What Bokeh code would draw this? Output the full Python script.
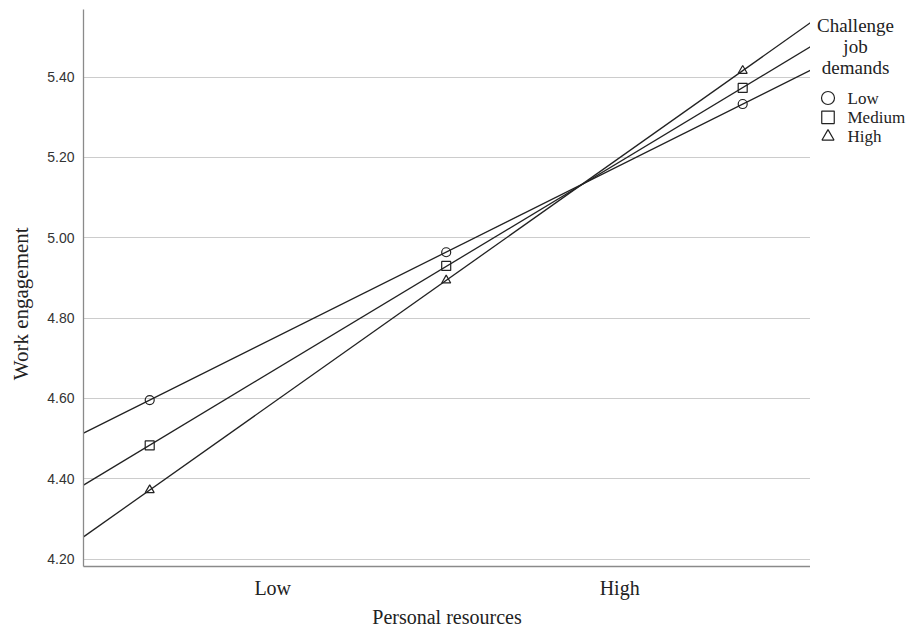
import numpy as np
from bokeh.plotting import figure
from bokeh.layouts import row
from bokeh.models import Range1d, FixedTicker, Label, NumeralTickFormatter
from bokeh.embed import file_html
from bokeh.resources import INLINE

# ---- data ----
x_levels = [-1.0, 0.0, 1.0]          # personal resources: -1 SD, mean, +1 SD
low_demands = [4.596, 4.964, 5.333]
medium_demands = [4.483, 4.930, 5.373]
high_demands = [4.372, 4.894, 5.416]
series_names = ["Low", "Medium", "High"]
series_markers = ["circle", "square", "triangle"]
legend_title_lines = ["Challenge", "job", "demands"]
y_ticks = [4.20, 4.40, 4.60, 4.80, 5.00, 5.20, 5.40]
x_tick_pos = [-0.585, 0.585]
x_tick_labels = ["Low", "High"]
x_limits = (-1.2233, 1.2287)
y_limits = (4.1817, 5.5683)

SERIF = "Liberation Serif"
SANS = "Liberation Sans"
INK = "#222222"
H = 630
TOP = 9          # frame top (px)
BOTTOM = 566     # frame bottom (px)

p = figure(width=810, height=H, output_backend="svg", toolbar_location=None,
           x_range=Range1d(*x_limits), y_range=Range1d(*y_limits),
           min_border_left=83, min_border_right=0, min_border_top=TOP, min_border_bottom=H - BOTTOM,
           background_fill_color="white", border_fill_color="white")
p.outline_line_color = None

# axes
p.xaxis.ticker = FixedTicker(ticks=x_tick_pos)
p.xaxis.major_label_overrides = {t: l for t, l in zip(x_tick_pos, x_tick_labels)}
p.yaxis.ticker = FixedTicker(ticks=y_ticks)
p.yaxis.formatter = NumeralTickFormatter(format="0.00")
p.xaxis.axis_label = "Personal resources"
# trailing no-break spaces shift the rotated label slightly below the frame centre, as in the reference
p.yaxis.axis_label = "Work engagement" + "\u00a0" * 6
for ax in (p.xaxis[0], p.yaxis[0]):
    ax.axis_line_color = "#8a8a8a"
    ax.axis_line_width = 1.3
    ax.major_tick_line_color = None
    ax.minor_tick_line_color = None
    ax.axis_label_text_font = SERIF
    ax.axis_label_text_font_style = "normal"
    ax.axis_label_text_color = INK
p.xaxis.axis_label_text_font_size = "20px"
p.yaxis.axis_label_text_font_size = "21px"
p.xaxis.major_label_text_font = SERIF
p.xaxis.major_label_text_font_size = "20px"
p.xaxis.major_label_text_color = INK
p.xaxis.major_label_standoff = 4
p.xaxis.axis_label_standoff = 4
p.yaxis.major_label_text_font = SANS
p.yaxis.major_label_text_font_size = "14px"
p.yaxis.major_label_text_color = "#333333"
p.yaxis.major_label_standoff = 3
p.yaxis.axis_label_standoff = 11

p.xgrid.grid_line_color = None
p.ygrid.grid_line_color = "#cccccc"
p.ygrid.grid_line_width = 1.2

# series: fitted simple-slope lines across the full x range + markers at -1SD, mean, +1SD
series_values = [low_demands, medium_demands, high_demands]
for marker, ys in zip(series_markers, series_values):
    slope, icpt = np.polyfit(x_levels, ys, 1)
    xs_line = list(x_limits)
    ys_line = [icpt + slope * x for x in xs_line]
    p.line(xs_line, ys_line, line_color=INK, line_width=1.3)
    p.scatter(x_levels, ys, marker=marker, size=9, fill_color=None,
              line_color=INK, line_width=1.2)

# ---- legend panel (pixel-space figure to the right of the plot; frame aligned with main) ----
LW = 99
lg = figure(width=LW, height=H, output_backend="svg", toolbar_location=None,
            x_range=Range1d(0, LW), y_range=Range1d(BOTTOM, TOP),
            x_axis_location=None, y_axis_location=None,
            min_border_left=0, min_border_right=0, min_border_top=TOP, min_border_bottom=H - BOTTOM,
            background_fill_color="white", border_fill_color="white")
lg.outline_line_color = None
lg.xgrid.visible = False
lg.ygrid.visible = False

title_x, title_y0, title_dy = 45, 25, 21
for i, txt in enumerate(legend_title_lines):
    lg.add_layout(Label(x=title_x, y=title_y0 + i * title_dy, text=txt,
                        text_align="center", text_baseline="middle",
                        text_font=SERIF, text_font_size="19px", text_color=INK))

item_x, item_y0, item_dy, label_x = 17.5, 97.5, 19.3, 37
marker_sizes = [13, 12.5, 12]
for i, (name, marker) in enumerate(zip(series_names, series_markers)):
    yy = item_y0 + i * item_dy
    lg.scatter([item_x], [yy], marker=marker, size=marker_sizes[i], fill_color=None,
               line_color=INK, line_width=1.2)
    lg.add_layout(Label(x=label_x, y=yy, text=name, text_align="left", text_baseline="middle",
                        text_font=SERIF, text_font_size="17px", text_color=INK))

layout = row(p, lg)
open("out.html", "w").write(file_html(layout, INLINE))
